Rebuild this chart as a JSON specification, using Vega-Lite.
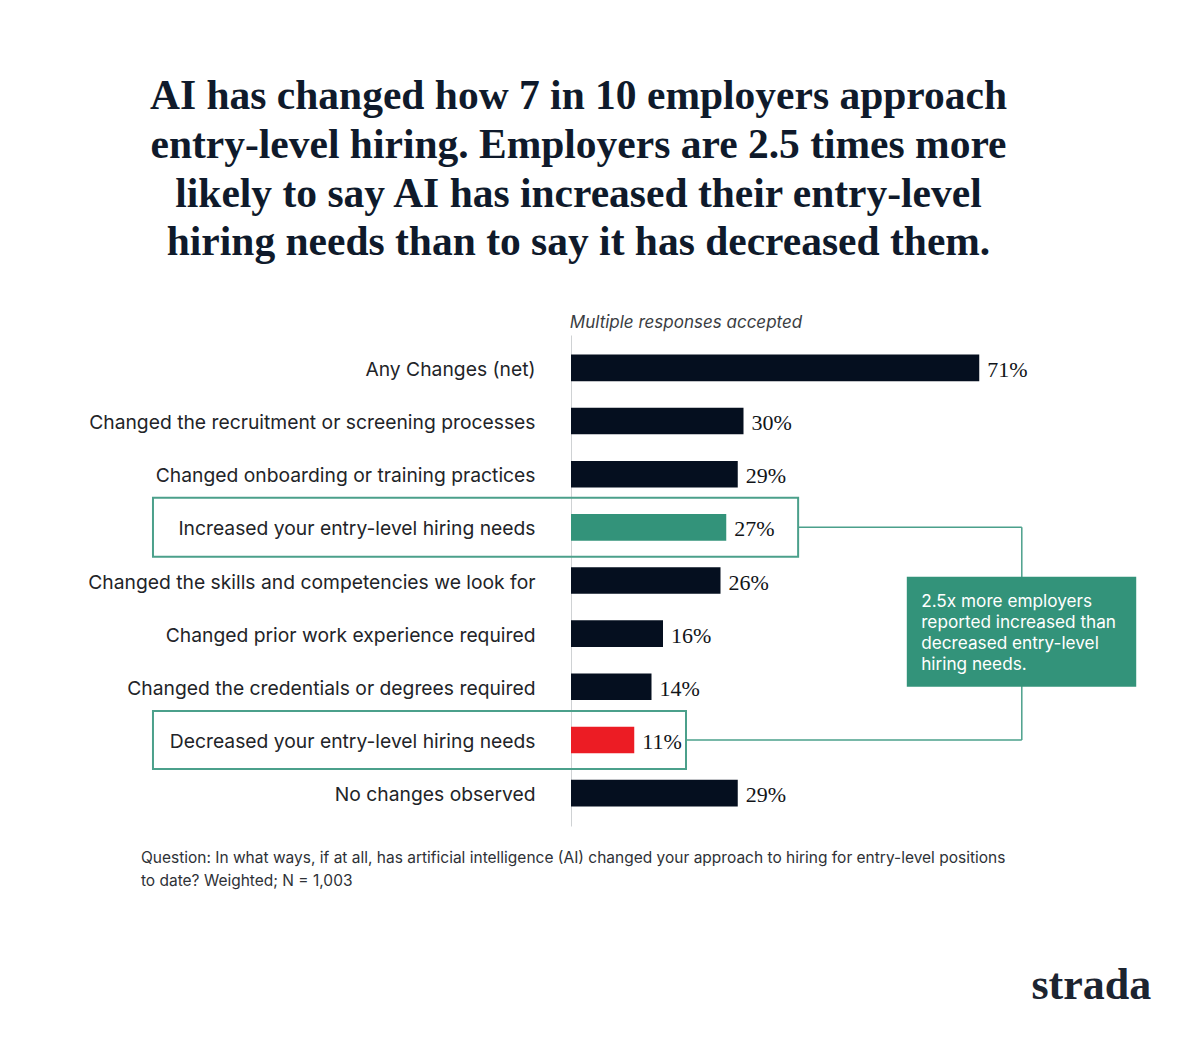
{
  "$schema": "https://vega.github.io/schema/vega-lite/v6.json",
  "autosize": {"type": "none"},
  "padding": {"left": 571, "top": 335, "right": 54, "bottom": 228},
  "width": 575,
  "height": 491,
  "background": "#ffffff",
  "config": {"view": {"stroke": null}},
  "title": {
    "text": ["AI has changed how 7 in 10 employers approach", "entry-level hiring. Employers are 2.5 times more", "likely to say AI has increased their entry-level", "hiring needs than to say it has decreased them."],
    "font": "Liberation Serif",
    "fontSize": 41.5,
    "fontWeight": "bold",
    "color": "#0f1a2b",
    "lineHeight": 48.7,
    "anchor": "middle",
    "dx": -280,
    "offset": 50
  },
  "data": {"values": [
    {"label": "Any Changes (net)", "value": 0.71, "type": "Other"},
    {"label": "Changed the recruitment or screening processes", "value": 0.30, "type": "Other"},
    {"label": "Changed onboarding or training practices", "value": 0.29, "type": "Other"},
    {"label": "Increased your entry-level hiring needs", "value": 0.27, "type": "Increased"},
    {"label": "Changed the skills and competencies we look for", "value": 0.26, "type": "Other"},
    {"label": "Changed prior work experience required", "value": 0.16, "type": "Other"},
    {"label": "Changed the credentials or degrees required", "value": 0.14, "type": "Other"},
    {"label": "Decreased your entry-level hiring needs", "value": 0.11, "type": "Decreased"},
    {"label": "No changes observed", "value": 0.29, "type": "Other"}
  ]},
  "layer": [
    {
      "mark": {"type": "bar"},
      "encoding": {
        "x": {"field": "value", "type": "quantitative", "scale": {"domain": [0, 1], "nice": false, "zero": true}, "axis": null},
        "y": {
          "field": "label", "type": "nominal",
          "scale": {"domain": ["Any Changes (net)", "Changed the recruitment or screening processes", "Changed onboarding or training practices", "Increased your entry-level hiring needs", "Changed the skills and competencies we look for", "Changed prior work experience required", "Changed the credentials or degrees required", "Decreased your entry-level hiring needs", "No changes observed"], "paddingInner": 0.5, "paddingOuter": 0.369},
          "axis": {"title": null, "ticks": false, "labelFont": "Inter", "labelFontSize": 19.3, "labelColor": "#222428", "labelPadding": 36, "labelOffset": 2, "labelLimit": 0, "domainColor": "#cfd2d4", "domainWidth": 1}
        },
        "color": {"field": "type", "type": "nominal", "scale": {"domain": ["Other", "Increased", "Decreased"], "range": ["#050f1f", "#33937a", "#ec1c24"]}, "legend": null}
      }
    },
    {
      "mark": {"type": "text", "align": "left", "baseline": "middle", "dx": 8, "dy": 2, "font": "Liberation Serif", "fontSize": 22, "color": "#111418"},
      "encoding": {
        "x": {"field": "value", "type": "quantitative", "axis": null},
        "y": {"field": "label", "type": "nominal"},
        "text": {"field": "value", "type": "quantitative", "format": ".0%"}
      }
    },
    {
      "data": {"values": [{}]},
      "mark": {"type": "bar", "filled": false, "stroke": "#4ba08b", "strokeWidth": 2, "height": 59},
      "encoding": {
        "x": {"datum": -0.727, "type": "quantitative", "axis": null},
        "x2": {"datum": 0.395},
        "y": {"datum": "Increased your entry-level hiring needs", "type": "nominal"}
      }
    },
    {
      "data": {"values": [{}]},
      "mark": {"type": "bar", "filled": false, "stroke": "#4ba08b", "strokeWidth": 2, "height": 58},
      "encoding": {
        "x": {"datum": -0.727, "type": "quantitative", "axis": null},
        "x2": {"datum": 0.2},
        "y": {"datum": "Decreased your entry-level hiring needs", "type": "nominal"}
      }
    },
    {
      "data": {"values": [{}]},
      "mark": {"type": "rule", "stroke": "#4ba08b", "strokeWidth": 1.5},
      "encoding": {
        "x": {"datum": 0.395, "type": "quantitative", "axis": null},
        "x2": {"datum": 0.784},
        "y": {"datum": "Increased your entry-level hiring needs", "type": "nominal"}
      }
    },
    {
      "data": {"values": [{}]},
      "mark": {"type": "rule", "stroke": "#4ba08b", "strokeWidth": 1.5},
      "encoding": {
        "x": {"datum": 0.2, "type": "quantitative", "axis": null},
        "x2": {"datum": 0.784},
        "y": {"datum": "Decreased your entry-level hiring needs", "type": "nominal"}
      }
    },
    {
      "data": {"values": [{}]},
      "mark": {"type": "rule", "stroke": "#4ba08b", "strokeWidth": 1.5},
      "encoding": {
        "x": {"datum": 0.784, "type": "quantitative", "axis": null},
        "y": {"datum": "Increased your entry-level hiring needs", "type": "nominal"},
        "y2": {"datum": "Decreased your entry-level hiring needs"}
      }
    },
    {
      "data": {"values": [{}]},
      "mark": {"type": "bar", "fill": "#33937a", "height": 110, "yOffset": -2},
      "encoding": {
        "x": {"datum": 0.584, "type": "quantitative", "axis": null},
        "x2": {"datum": 0.983},
        "y": {"datum": "Changed prior work experience required", "type": "nominal"}
      }
    },
    {
      "data": {"values": [{}]},
      "mark": {"type": "text", "align": "left", "baseline": "middle", "dy": 21, "font": "Inter", "fontSize": 17.2, "lineHeight": 21, "color": "#ffffff"},
      "encoding": {
        "x": {"datum": 0.609, "type": "quantitative", "axis": null},
        "y": {"datum": "Changed the skills and competencies we look for", "type": "nominal"},
        "text": {"value": ["2.5x more employers", "reported increased than", "decreased entry-level", "hiring needs."]}
      }
    },
    {
      "data": {"values": [{}]},
      "mark": {"type": "text", "align": "left", "baseline": "alphabetic", "dy": -40, "font": "Inter", "fontSize": 17, "fontStyle": "italic", "color": "#3a3d42"},
      "encoding": {
        "x": {"datum": -0.002, "type": "quantitative", "axis": null},
        "y": {"datum": "Any Changes (net)", "type": "nominal"},
        "text": {"value": "Multiple responses accepted"}
      }
    },
    {
      "data": {"values": [{}]},
      "mark": {"type": "text", "align": "left", "baseline": "alphabetic", "dy": 70, "font": "Inter", "fontSize": 15.5, "lineHeight": 23, "color": "#2e3136"},
      "encoding": {
        "x": {"datum": -0.748, "type": "quantitative", "axis": null},
        "y": {"datum": "No changes observed", "type": "nominal"},
        "text": {"value": ["Question: In what ways, if at all, has artificial intelligence (AI) changed your approach to hiring for entry-level positions", "to date? Weighted; N = 1,003"]}
      }
    },
    {
      "data": {"values": [{}]},
      "mark": {"type": "text", "align": "right", "baseline": "alphabetic", "dy": 206, "font": "Liberation Serif", "fontSize": 44, "fontWeight": "bold", "color": "#1c2430"},
      "encoding": {
        "x": {"datum": 1.009, "type": "quantitative", "axis": null},
        "y": {"datum": "No changes observed", "type": "nominal"},
        "text": {"value": "strada"}
      }
    }
  ]
}
